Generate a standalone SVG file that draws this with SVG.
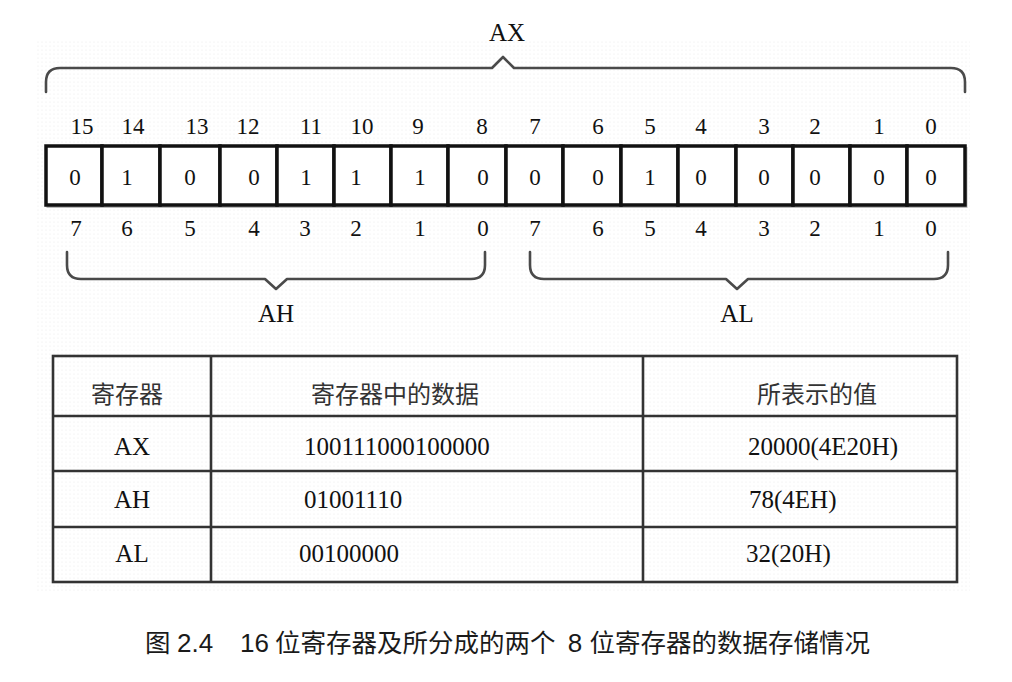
<svg xmlns="http://www.w3.org/2000/svg" width="1012" height="682" viewBox="0 0 1012 682">
<defs>
<pattern id="dots" x="0" y="0" width="4" height="4" patternUnits="userSpaceOnUse">
<circle cx="2" cy="2" r="0.6" fill="#e6e6e6"/>
</pattern>
<style>
.t{font-family:"Liberation Serif","Noto Sans CJK SC",serif;fill:#111;}
.b{font-size:23px;text-anchor:middle;}
.lbl{font-size:25px;text-anchor:middle;}
.cell{fill:#fff;stroke:#111;stroke-width:3.5;}
.brace{fill:none;stroke:#4a4a4a;stroke-width:2.6;stroke-linejoin:round;stroke-linecap:round;}
.grid{fill:none;stroke:#333;stroke-width:2.6;}
.tb{font-size:25px;}
.cjk{font-family:"Noto Sans CJK SC",sans-serif;font-size:24px;fill:#333;text-anchor:middle;}
.cap{font-family:"Liberation Sans","Noto Sans CJK SC",sans-serif;font-size:25.5px;fill:#1a1a1a;}
.capd{font-size:26px;}
</style>
</defs>
<rect width="1012" height="682" fill="#fff"/>
<rect x="36" y="40" width="934" height="552" fill="url(#dots)"/>

<g id="ax-label">
<text class="t lbl" x="507" y="41">AX</text>
</g>

<g id="connectors">
<path class="brace" d="M46,92 L46,82 Q46,68 60,68 L492,68 L503,57 L514,68 L951,68 Q965,68 965,82 L965,92"/>
<path class="brace" d="M67,252 L67,265 Q67,279 81,279 L265,279 L276,289 L287,279 L471,279 Q485,279 485,265 L485,252"/>
<path class="brace" d="M530,252 L530,265 Q530,279 544,279 L726,279 L737,289 L748,279 L934,279 Q948,279 948,265 L948,252"/>
</g>

<g id="bit-indices-top" class="t b">
<text x="82" y="134">15</text><text x="133" y="134">14</text><text x="197" y="134">13</text><text x="248" y="134">12</text>
<text x="311" y="134">11</text><text x="362" y="134">10</text><text x="418" y="134">9</text><text x="482" y="134">8</text>
<text x="535" y="134">7</text><text x="598" y="134">6</text><text x="650" y="134">5</text><text x="701" y="134">4</text>
<text x="764" y="134">3</text><text x="815" y="134">2</text><text x="879" y="134">1</text><text x="931" y="134">0</text>
</g>

<g id="register-cells">
<rect x="46" y="146" width="919" height="59" fill="none" stroke="#bbb" stroke-width="2" transform="translate(1.5,2)"/>
<rect class="cell" x="46" y="146" width="56" height="59"/>
<rect class="cell" x="102" y="146" width="58" height="59"/>
<rect class="cell" x="160" y="146" width="60" height="59"/>
<rect class="cell" x="220" y="146" width="57" height="59"/>
<rect class="cell" x="277" y="146" width="57" height="59"/>
<rect class="cell" x="334" y="146" width="57" height="59"/>
<rect class="cell" x="391" y="146" width="57" height="59"/>
<rect class="cell" x="448" y="146" width="58" height="59"/>
<rect class="cell" x="506" y="146" width="57" height="59"/>
<rect class="cell" x="563" y="146" width="58" height="59"/>
<rect class="cell" x="621" y="146" width="57" height="59"/>
<rect class="cell" x="678" y="146" width="58" height="59"/>
<rect class="cell" x="736" y="146" width="57" height="59"/>
<rect class="cell" x="793" y="146" width="57" height="59"/>
<rect class="cell" x="850" y="146" width="57" height="59"/>
<rect class="cell" x="907" y="146" width="58" height="59"/>
</g>

<g id="bit-values" class="t b">
<text x="75" y="185">0</text><text x="127" y="185">1</text><text x="190" y="185">0</text><text x="254" y="185">0</text>
<text x="306" y="185">1</text><text x="356" y="185">1</text><text x="420" y="185">1</text><text x="483" y="185">0</text>
<text x="535" y="185">0</text><text x="598" y="185">0</text><text x="650" y="185">1</text><text x="701" y="185">0</text>
<text x="764" y="185">0</text><text x="815" y="185">0</text><text x="879" y="185">0</text><text x="931" y="185">0</text>
</g>

<g id="bit-indices-bottom" class="t b">
<text x="76" y="236">7</text><text x="127" y="236">6</text><text x="190" y="236">5</text><text x="254" y="236">4</text>
<text x="305" y="236">3</text><text x="356" y="236">2</text><text x="420" y="236">1</text><text x="483" y="236">0</text>
<text x="535" y="236">7</text><text x="598" y="236">6</text><text x="650" y="236">5</text><text x="701" y="236">4</text>
<text x="764" y="236">3</text><text x="815" y="236">2</text><text x="879" y="236">1</text><text x="931" y="236">0</text>
</g>

<g id="ah-label"><text class="t lbl" x="276" y="322">AH</text></g>
<g id="al-label"><text class="t lbl" x="737" y="322">AL</text></g>

<g id="table">
<rect class="grid" x="53" y="356" width="904" height="226"/>
<line class="grid" x1="211" y1="356" x2="211" y2="582"/>
<line class="grid" x1="643" y1="356" x2="643" y2="582"/>
<line class="grid" x1="53" y1="416" x2="957" y2="416"/>
<line class="grid" x1="53" y1="471" x2="957" y2="471"/>
<line class="grid" x1="53" y1="527" x2="957" y2="527"/>
<text class="cjk" x="127" y="403">寄存器</text>
<text class="cjk" x="395" y="403">寄存器中的数据</text>
<text class="cjk" x="817" y="403">所表示的值</text>
<text class="t tb" x="132" y="455" text-anchor="middle">AX</text>
<text class="t tb" x="132" y="508" text-anchor="middle">AH</text>
<text class="t tb" x="132" y="562" text-anchor="middle">AL</text>
<text class="t tb" x="304" y="455">100111000100000</text>
<text class="t tb" x="304" y="508">01001110</text>
<text class="t tb" x="299" y="562">00100000</text>
<text class="t tb" x="748" y="455">20000(4E20H)</text>
<text class="t tb" x="749" y="508">78(4EH)</text>
<text class="t tb" x="746" y="562">32(20H)</text>
</g>

<g id="caption" class="cap">
<text x="145" y="652">图</text>
<text class="capd" x="177" y="652">2.4</text>
<text class="capd" x="240" y="652">16</text>
<text x="275" y="652">位寄存器及所分成的两个</text>
<text class="capd" x="575" y="652" text-anchor="middle">8</text>
<text x="870" y="652" text-anchor="end">位寄存器的数据存储情况</text>
</g>
</svg>
